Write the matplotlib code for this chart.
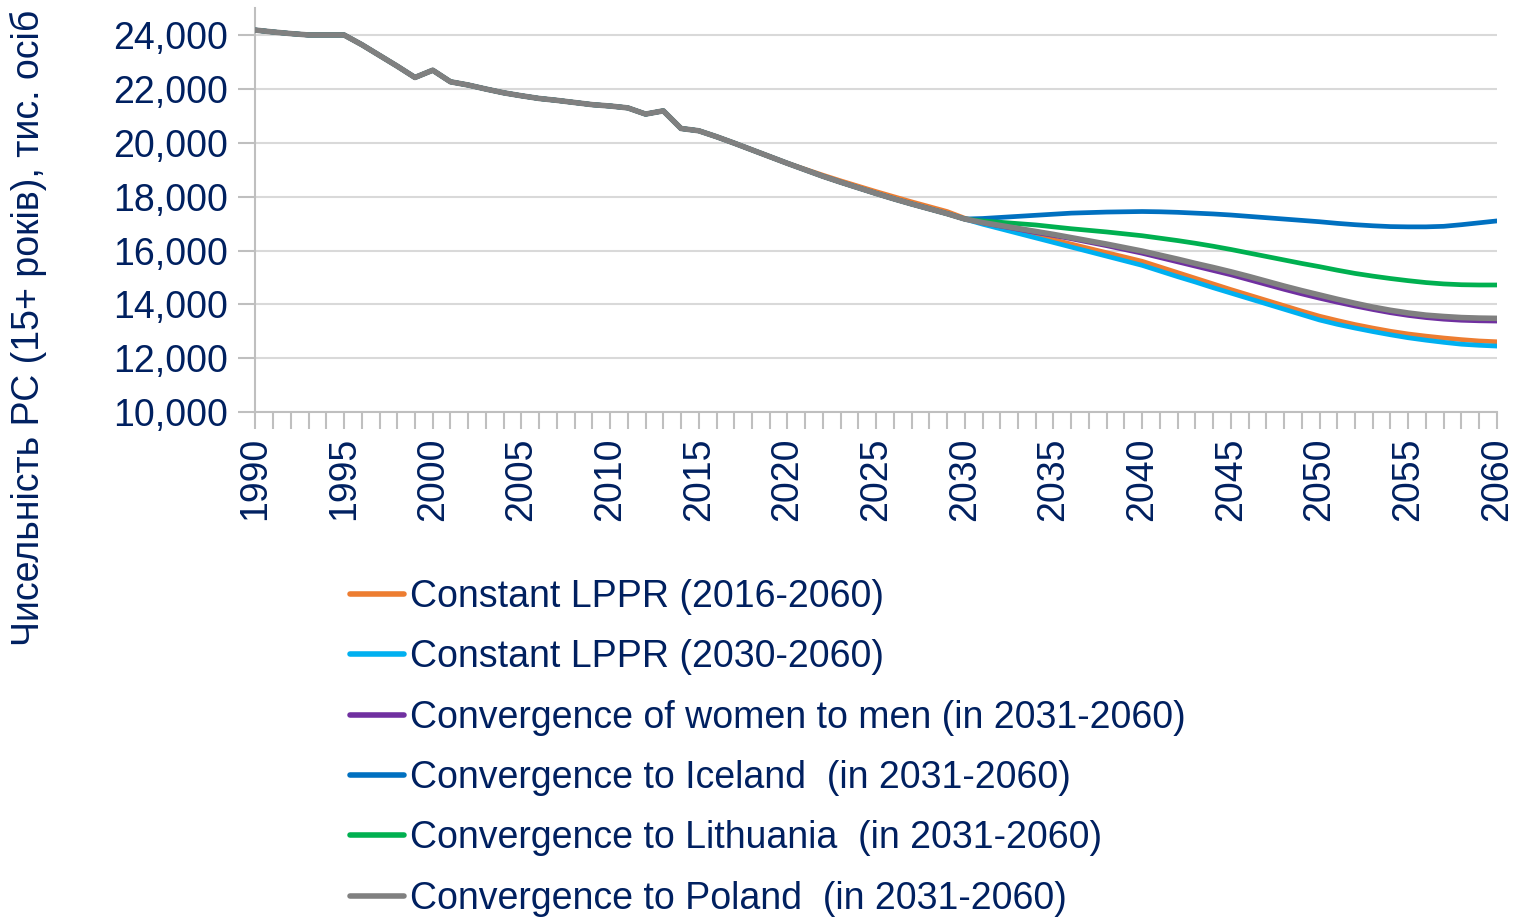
import numpy as np
import matplotlib
matplotlib.use("Agg")
import matplotlib.pyplot as plt

plt.rcParams['font.family'] = ['Liberation Sans', 'DejaVu Sans']

# Фактичні дані + спільна частина прогнозу (1990-2030), тис. осіб
years_common = list(range(1990, 2031))
common = [24190, 24120, 24060, 24010, 24010, 24010, 23650, 23250, 22850, 22430,
          22700, 22270, 22150, 22000, 21860, 21750, 21650, 21580, 21500, 21420,
          21370, 21300, 21070, 21190, 20535, 20450, 20230, 19990, 19740, 19490,
          19240, 19000, 18760, 18540, 18330, 18120, 17920, 17730, 17550, 17370,
          17170]

# Сценарії 2030-2060
years_proj = list(range(2030, 2061))
lppr_2016 = [17200, 17040, 16880, 16720, 16560, 16400, 16240, 16080, 15920, 15760,
             15600, 15390, 15180, 14970, 14760, 14550, 14350, 14150, 13950, 13750,
             13560, 13400, 13250, 13120, 13000, 12900, 12820, 12750, 12690, 12640,
             12610]
lppr_2030 = [17150, 16980, 16810, 16640, 16470, 16300, 16130, 15960, 15790, 15620,
             15450, 15240, 15030, 14830, 14620, 14420, 14220, 14020, 13820, 13620,
             13420, 13260, 13120, 12990, 12870, 12760, 12670, 12590, 12520, 12480,
             12450]
women_men = [17150, 17030, 16910, 16790, 16670, 16560, 16440, 16310, 16180, 16040,
             15900, 15740, 15580, 15420, 15260, 15100, 14920, 14740, 14560, 14390,
             14230, 14080, 13940, 13810, 13690, 13590, 13510, 13450, 13410, 13390,
             13380]
iceland = [17150, 17190, 17230, 17270, 17310, 17350, 17390, 17410, 17430, 17440,
           17450, 17440, 17420, 17390, 17360, 17320, 17270, 17220, 17170, 17120,
           17070, 17010, 16960, 16920, 16890, 16880, 16880, 16900, 16960, 17030,
           17100]
lithuania = [17150, 17100, 17050, 17000, 16950, 16880, 16810, 16750, 16690, 16620,
             16550, 16460, 16370, 16270, 16160, 16040, 15910, 15780, 15650, 15520,
             15400, 15270, 15150, 15050, 14960, 14880, 14810, 14760, 14730, 14720,
             14720]
poland = [17150, 17040, 16930, 16820, 16710, 16600, 16480, 16360, 16240, 16110,
          15980, 15830, 15680, 15520, 15370, 15210, 15040, 14860, 14680, 14510,
          14350, 14190, 14040, 13900, 13780, 13680, 13600, 13550, 13510, 13490,
          13480]

# невелике відхилення першого сценарію у 2020-2029
lppr_2016_early = [19240, 19020, 18800, 18590, 18390, 18190, 18000, 17810, 17630, 17450]
years_early = list(range(2020, 2030))

labels = ["Constant LPPR (2016-2060)",
          "Constant LPPR (2030-2060)",
          "Convergence of women to men (in 2031-2060)",
          "Convergence to Iceland  (in 2031-2060)",
          "Convergence to Lithuania  (in 2031-2060)",
          "Convergence to Poland  (in 2031-2060)"]
colors = ['#ED7D31', '#00B0F0', '#7030A0', '#0070C0', '#00B050', '#808080']
series = [lppr_2016, lppr_2030, women_men, iceland, lithuania, poland]

navy = '#002060'
fs = 27

fig = plt.figure(figsize=(15.2, 9.23), dpi=100)
ax = fig.add_axes([0.168, 0.5536, 0.8168, 0.4374])

for i, (vals, c, lab) in enumerate(zip(series, colors, labels)):
    if i == 0:
        x = years_common[:30] + years_early + years_proj
        y = common[:30] + lppr_2016_early + vals
    else:
        x = years_common + years_proj[1:]
        y = common + vals[1:]
    lw = 4.0 if i == 5 else 3.4
    ax.plot(x, y, color=c, lw=lw, label=lab, solid_capstyle='round', zorder=3 + i)

ax.set_xlim(1990, 2060)
ax.set_ylim(10000, 25000)
ax.set_yticks(range(10000, 25000, 2000))
ax.yaxis.set_major_formatter(matplotlib.ticker.FuncFormatter(lambda v, p: f"{int(v):,}"))
ax.set_xticks(range(1990, 2061, 5))
ax.set_xticks(range(1990, 2061), minor=True)
ax.grid(axis='y', color='#D9D9D9', lw=1.5, zorder=0)
for s in ['top', 'right']:
    ax.spines[s].set_visible(False)
for s in ['left', 'bottom']:
    ax.spines[s].set_color('#BFBFBF')
    ax.spines[s].set_linewidth(1.5)
ax.tick_params(axis='y', colors='#BFBFBF', length=12, width=1.5, labelcolor=navy,
               labelsize=fs, pad=8)
ax.tick_params(axis='x', which='both', colors='#BFBFBF', length=12, width=1.5,
               labelcolor=navy, labelsize=fs, labelrotation=90, pad=6)

fig.text(28 / 1520, 1 - 328 / 923, "Чисельність РС (15+ років), тис. осіб",
         rotation=90, ha='center', va='center', fontsize=fs, color=navy)

handles, labs = ax.get_legend_handles_labels()
leg = fig.legend(handles, labs, loc='upper left', bbox_to_anchor=(350 / 1520, 1 - 579 / 923),
                 frameon=False, fontsize=fs, handlelength=1.45, handletextpad=0.15,
                 labelspacing=0.65, borderpad=0, borderaxespad=0)
for t in leg.get_texts():
    t.set_color(navy)
for h in leg.get_lines():
    h.set_linewidth(4)

fig.savefig("out.png", dpi=100)
